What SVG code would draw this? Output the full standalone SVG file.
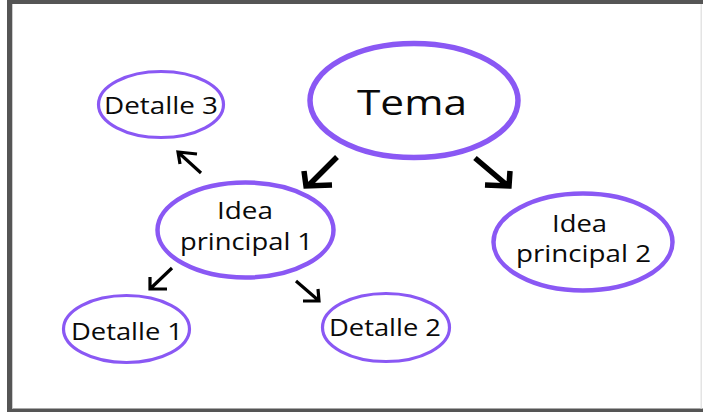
<svg xmlns="http://www.w3.org/2000/svg" width="703" height="412" viewBox="0 0 703 412">
<style>
.node ellipse{fill:#fff;stroke:#8a58f4}
.big{stroke-width:5.5}
.mid{stroke-width:4.5}
.small{stroke-width:3.2}
text{font-family:"Open Sans","Noto Sans","DejaVu Sans",sans-serif;fill:#0a0a0a;text-anchor:middle}
.t22{font-size:23px}
.t34{font-size:35px}
.arr path{fill:none;stroke:#000;stroke-linecap:butt;stroke-linejoin:miter}
.arrB{stroke-width:5.5}
.arrS{stroke-width:3.2}
</style>
<rect x="0" y="0" width="703" height="412" fill="#fff"/>
<rect x="7" y="0" width="696" height="4" fill="#555"/>
<rect x="7" y="0" width="5" height="412" fill="#555"/>
<rect x="7" y="408.5" width="696" height="3.5" fill="#555"/>
<rect x="12" y="4" width="1" height="404.5" fill="#ccc"/>
<rect x="700.5" y="4" width="1.5" height="404.5" fill="#e4e4e4"/>

<g id="tema" class="node">
<ellipse class="big" cx="414" cy="100.5" rx="104" ry="57"/>
<text class="t34" x="412" y="115" textLength="110" lengthAdjust="spacingAndGlyphs">Tema</text>
</g>
<g id="detalle3" class="node">
<ellipse class="small" cx="161" cy="104.5" rx="62.5" ry="33"/>
<text class="t22" x="161" y="113.5" textLength="114" lengthAdjust="spacingAndGlyphs">Detalle 3</text>
</g>
<g id="idea1" class="node">
<ellipse class="mid" cx="245.5" cy="230" rx="88" ry="47.5"/>
<text class="t22" x="245" y="218.5" textLength="56" lengthAdjust="spacingAndGlyphs">Idea</text>
<text class="t22" x="246.5" y="249.5" textLength="133" lengthAdjust="spacingAndGlyphs">principal 1</text>
</g>
<g id="idea2" class="node">
<ellipse class="mid" cx="583" cy="242" rx="89.5" ry="48.5"/>
<text class="t22" x="579.5" y="232" textLength="55" lengthAdjust="spacingAndGlyphs">Idea</text>
<text class="t22" x="583.5" y="262" textLength="135" lengthAdjust="spacingAndGlyphs">principal 2</text>
</g>
<g id="detalle1" class="node">
<ellipse class="small" cx="126.5" cy="329" rx="63" ry="33.5"/>
<text class="t22" x="127" y="340" textLength="112" lengthAdjust="spacingAndGlyphs">Detalle 1</text>
</g>
<g id="detalle2" class="node">
<ellipse class="small" cx="386" cy="327.5" rx="63.5" ry="34"/>
<text class="t22" x="385" y="335.5" textLength="112" lengthAdjust="spacingAndGlyphs">Detalle 2</text>
</g>

<g id="connectors" class="arr">
<path class="arrB" d="M337,157 L308,186 M304,171 L306,186 L332,185"/>
<path class="arrB" d="M475,158 L508,186 M510,171 L509,186 L485,185"/>
<path class="arrS" d="M201,173 L179,153 M180,164 L178,152 L197,154"/>
<path class="arrS" d="M172,268 L151,288 M150,277 L150,289 L167,289"/>
<path class="arrS" d="M296,281 L318,300 M318,289 L319,301 L303,301"/>
</g>
</svg>
